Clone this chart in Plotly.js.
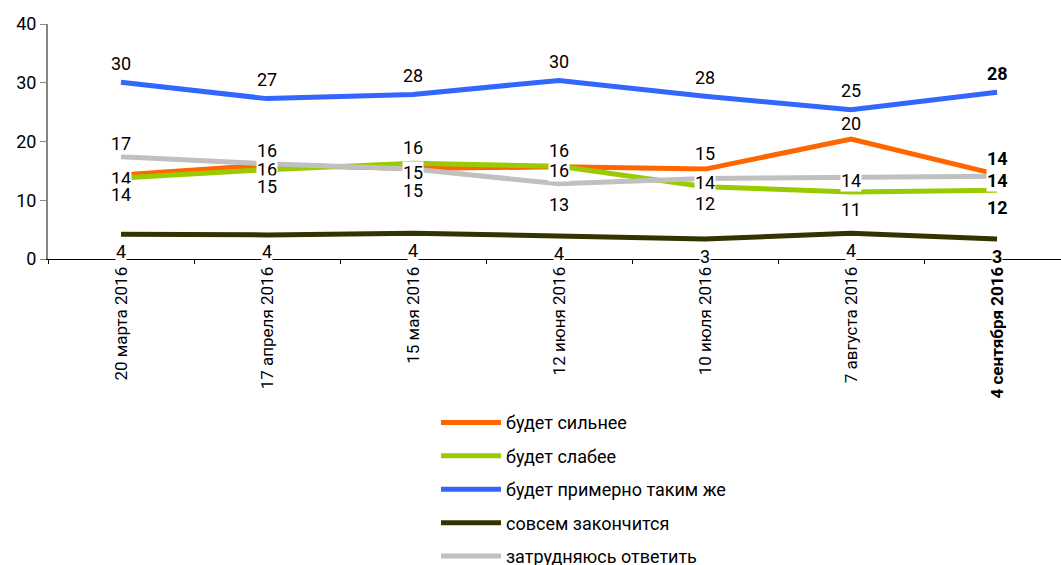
<!DOCTYPE html>
<html>
<head>
<meta charset="utf-8">
<script src="https://cdn.plot.ly/plotly-3.0.1.min.js"></script>
<style>html,body{margin:0;padding:0;background:#fff;overflow:hidden}#chart{width:1061px;height:565px}</style>
</head>
<body>
<div id="chart"></div>
<script>
// ---- data ----
const categories = ['20 марта 2016','17 апреля 2016','15 мая 2016','12 июня 2016','10 июля 2016','7 августа 2016','4 сентября 2016'];
const tickLabels = ['20 марта 2016','17 апреля 2016','15 мая 2016','12 июня 2016','10 июля 2016','7 августа 2016','<b>4 сентября 2016</b>'];
const seriesNames = ['будет сильнее','будет слабее','будет примерно таким же','совсем закончится','затрудняюсь ответить'];
const stronger  = [14.3, 16.0, 15.4, 15.7, 15.3, 20.4, 14.4];
const weaker    = [13.8, 15.2, 16.3, 15.8, 12.3, 11.4, 11.7];
const same      = [30.1, 27.3, 28.0, 30.4, 27.7, 25.4, 28.4];
const ending    = [4.2, 4.1, 4.4, 3.9, 3.4, 4.4, 3.4];
const dontKnow  = [17.4, 16.2, 15.3, 12.8, 13.7, 14.0, 14.1];

// ---- style ----
const colors = ['#FF6600','#99CC00','#3366FF','#333300','#C0C0C0'];
const labelPos = [
  ['C','C','C','T','T','T','T'],
  ['B','B','T','C','B','B','B'],
  ['TT','TT','TT','TT','TT','TT','TT'],
  ['B','B','B','B','B','B','B'],
  ['Ts','Ts','BB','BB','C','C','C']
];
const shift = {TT:19, T:16, Ts:13, C:-4, B:-17, BB:-21};
const FONT = 'Roboto, "Liberation Sans", sans-serif';

const allSeries = [stronger, weaker, same, ending, dontKnow];
const traces = allSeries.map((vals, s) => ({
  type:'scatter', mode:'lines', x:categories, y:vals, name:seriesNames[s],
  legendgroup:'g'+s,
  line:{color:colors[s], width:5}, hoverinfo:'skip'
}));

const annotations = [];
allSeries.forEach((vals, s) => {
  vals.forEach((v, i) => {
    const t = String(Math.round(v));
    annotations.push({
      x:categories[i], y:v, xref:'x', yref:'y', showarrow:false,
      text: i === vals.length-1 ? '<b>'+t+'</b>' : t,
      yshift: shift[labelPos[s][i]],
      font:{family:FONT, size:18, color:'#000'},
      bgcolor:'rgba(255,255,255,1)', borderpad:0
    });
  });
});

const layout = {
  width:1061, height:565,
  margin:{l:48, r:0, t:24, b:306, autoexpand:false},
  paper_bgcolor:'#fff', plot_bgcolor:'#fff',
  font:{family:FONT, color:'#000'},
  showlegend:true,
  xaxis:{type:'category', range:[-0.5, 6.438], showline:true, linecolor:'#000', linewidth:1,
    ticks:'outside', ticklen:4, tickcolor:'#000', tickson:'boundaries',
    tickvals:categories, ticktext:tickLabels, tickangle:-90,
    tickfont:{family:FONT, size:17, color:'#000'}, showgrid:false, zeroline:false, fixedrange:true},
  yaxis:{range:[0,40], dtick:10, showline:true, linecolor:'#868686', linewidth:2,
    ticks:'outside', ticklen:6, tickcolor:'#868686',
    tickfont:{family:FONT, size:18, color:'#000'}, showgrid:false, zeroline:false, fixedrange:true},
  legend:{x:0.383, y:-0.618, xanchor:'left', yanchor:'top', orientation:'v',
    font:{family:FONT, size:18, color:'#000'}, tracegroupgap:7, itemwidth:60,
    bgcolor:'rgba(0,0,0,0)'},
  annotations:annotations
};

Plotly.newPlot('chart', traces, layout, {displayModeBar:false, staticPlot:true});
</script>
</body>
</html>
